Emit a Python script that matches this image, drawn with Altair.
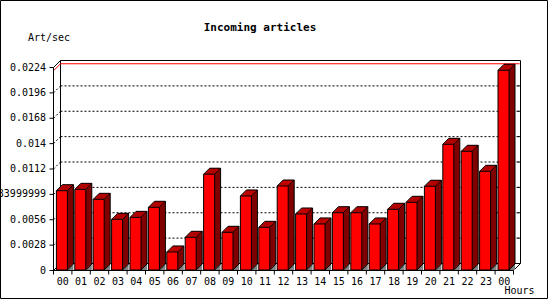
import altair as alt
import pandas as pd

# ---------------- data ----------------
hour_labels = ["00", "01", "02", "03", "04", "05", "06", "07", "08", "09", "10", "11",
               "12", "13", "14", "15", "16", "17", "18", "19", "20", "21", "22", "23", "00"]
rates = [0.00875, 0.00890, 0.00780, 0.00559, 0.00581, 0.00692, 0.00199, 0.00361,
         0.01057, 0.00416, 0.00817, 0.00471, 0.00927, 0.00618, 0.00508, 0.00632,
         0.00632, 0.00508, 0.00670, 0.00747, 0.00924, 0.01387, 0.01310, 0.01089, 0.02204]
y_tick_values = [0, 0.0028, 0.0056, 0.0084, 0.0112, 0.014, 0.0168, 0.0196, 0.0224]
y_tick_labels = ["0", "0.0028", "0.0056", "0.0083999999", "0.0112", "0.014",
                 "0.0168", "0.0196", "0.0224"]
chart_title = "Incoming articles"
y_title = "Art/sec"
x_title = "Hours"

# ---------------- style / geometry ----------------
FONT = "DejaVu Sans Mono"
W, H = 460, 203
WALL = 7          # depth of the 3-D frame (px)
DEPTH = 6         # depth of each bar (px)
F_L, F_R = 3.4, 14.4   # front face edges inside a slot (px)
RED, TOP, SIDE, FLOOR = "#ff0000", "#c00000", "#800000", "#808080"

n = len(rates)
ymax = y_tick_values[-1]
bars = pd.DataFrame({"slot": list(range(n)), "hour": hour_labels, "rate": rates})
ticks = pd.DataFrame({"tick": y_tick_values, "label": y_tick_labels})
bounds = pd.DataFrame({"b": list(range(n + 1))})
one = pd.DataFrame({"k": [0]})

xscale = alt.Scale(domain=[0, n], nice=False, zero=False)
yscale = alt.Scale(domain=[0, ymax], nice=False, zero=True)


def X():
    return alt.X("slot:Q", scale=xscale, axis=None)


def XD(v):
    return alt.XDatum(v, type="quantitative", scale=xscale, axis=None)


def YD(v):
    return alt.YDatum(v, type="quantitative", scale=yscale, axis=None)


def YR():
    return alt.Y("rate:Q", scale=yscale, axis=None)


def YT(field):
    return alt.Y(field, type="quantitative", scale=yscale, axis=None)


layers = []
b = alt.Chart(bars)

# outer border of the picture
layers.append(alt.Chart(one).mark_rect(fillOpacity=0, stroke="black", strokeWidth=1).encode(
    x=alt.value(-52.5), x2=alt.value(494.5), y=alt.value(-66.5), y2=alt.value(231.5)))

# back wall
layers.append(alt.Chart(one).mark_rect(
    fillOpacity=0, stroke="black", strokeWidth=1,
    xOffset=WALL + 0.5, x2Offset=WALL + 0.5, yOffset=-WALL + 0.5, y2Offset=-WALL + 0.5
).encode(x=XD(0), x2=alt.X2Datum(n), y=YD(ymax), y2=alt.Y2Datum(0)))

inner = alt.Chart(ticks).transform_filter(f"datum.tick > 0 && datum.tick < {ymax}")
# dotted grid on the back wall
layers.append(inner.mark_rule(
    color="black", strokeWidth=1, strokeDash=[2, 2],
    xOffset=WALL + 0.5, x2Offset=WALL + 0.5, yOffset=-WALL + 0.5
).encode(x=XD(0), x2=alt.X2Datum(n), y=YT("tick")))
# dotted connectors from front axis to back wall
layers.append(inner.mark_rule(
    color="black", strokeWidth=1, strokeDash=[2, 2],
    xOffset=0.5, x2Offset=WALL + 0.5, yOffset=0.5, y2Offset=-WALL + 0.5
).encode(x=XD(0), x2=alt.X2Datum(0), y=YT("tick"), y2=alt.Y2("tick")))
# little ticks on the right wall
layers.append(inner.mark_rule(
    color="black", strokeWidth=1,
    xOffset=WALL + 0.5 - 3, x2Offset=WALL + 0.5, yOffset=-WALL + 0.5, y2Offset=-WALL + 0.5
).encode(x=XD(n), x2=alt.X2Datum(n), y=YT("tick"), y2=alt.Y2("tick")))

# box edges (top-left and floor diagonals)
for xv, yv in [(0, ymax), (n, 0), (0, 0)]:
    layers.append(alt.Chart(one).mark_rule(
        color="black", strokeWidth=1, xOffset=0.5, x2Offset=WALL + 0.5, yOffset=0.5, y2Offset=-WALL + 0.5
    ).encode(x=XD(xv), x2=alt.X2Datum(xv), y=YD(yv), y2=alt.Y2Datum(yv)))

# red line at the maximum value
peak = alt.Chart(bars).transform_aggregate(peak="max(rate)")
layers.append(peak.mark_rule(
    color=RED, strokeWidth=1, xOffset=WALL + 0.5, x2Offset=WALL - 0.5, yOffset=-WALL + 0.5
).encode(x=XD(0), x2=alt.X2Datum(n), y=YT("peak")))
layers.append(peak.mark_rule(
    color=RED, strokeWidth=1, xOffset=0.5, x2Offset=WALL + 0.5, yOffset=0.5, y2Offset=-WALL + 0.5
).encode(x=XD(0), x2=alt.X2Datum(0), y=YT("peak"), y2=alt.Y2("peak")))

# ---------------- 3-D bars ----------------
# grey floor corner
layers.append(b.mark_rect(
    color=FLOOR, xOffset=F_R, x2Offset=F_R + DEPTH, yOffset=-DEPTH, y2Offset=0
).encode(x=X(), x2=alt.X2("slot"), y=YD(0), y2=alt.Y2Datum(0)))
# side face (stepped)
for k in range(DEPTH, 0, -1):
    layers.append(b.mark_rect(
        color=SIDE, xOffset=F_L + k, x2Offset=F_R + k, yOffset=-k, y2Offset=-k
    ).encode(x=X(), x2=alt.X2("slot"), y=YR(), y2=alt.Y2Datum(0)))
# top face (stepped rows)
for k in range(1, DEPTH + 1):
    layers.append(b.mark_rect(
        color=TOP, xOffset=F_L + k, x2Offset=F_R + k, yOffset=-k, y2Offset=-k + 1
    ).encode(x=X(), x2=alt.X2("slot"), y=YR(), y2=alt.Y2("rate")))
# front face
layers.append(b.mark_rect(
    color=RED, stroke="black", strokeWidth=1, xOffset=F_L, x2Offset=F_R
).encode(x=X(), x2=alt.X2("slot"), y=YR(), y2=alt.Y2Datum(0)))

# outlines of the top and side faces
edge = dict(color="black", strokeWidth=1)
layers.append(b.mark_rule(xOffset=F_L, x2Offset=F_L + DEPTH, y2Offset=-DEPTH, **edge).encode(
    x=X(), x2=alt.X2("slot"), y=YR(), y2=alt.Y2("rate")))
layers.append(b.mark_rule(xOffset=F_R, x2Offset=F_R + DEPTH, y2Offset=-DEPTH, **edge).encode(
    x=X(), x2=alt.X2("slot"), y=YR(), y2=alt.Y2("rate")))
layers.append(b.mark_rule(xOffset=F_L + DEPTH, x2Offset=F_R + DEPTH, yOffset=-DEPTH, y2Offset=-DEPTH, **edge).encode(
    x=X(), x2=alt.X2("slot"), y=YR(), y2=alt.Y2("rate")))
layers.append(b.mark_rule(xOffset=F_R + DEPTH, x2Offset=F_R + DEPTH, yOffset=-DEPTH, y2Offset=-DEPTH, **edge).encode(
    x=X(), x2=alt.X2("slot"), y=YR(), y2=alt.Y2Datum(0)))
layers.append(b.mark_rule(xOffset=F_R, x2Offset=F_R + DEPTH, y2Offset=-DEPTH, **edge).encode(
    x=X(), x2=alt.X2("slot"), y=YD(0), y2=alt.Y2Datum(0)))

# ---------------- axes drawn from the tick lists ----------------
# y axis line and ticks
layers.append(alt.Chart(one).mark_rule(
    color="black", strokeWidth=1, xOffset=0.5, yOffset=0.5, y2Offset=0.5
).encode(x=XD(0), y=YD(ymax), y2=alt.Y2Datum(0)))
layers.append(alt.Chart(ticks).mark_rule(
    color="black", strokeWidth=1, xOffset=-3.5, x2Offset=0.5, yOffset=0.5
).encode(x=XD(0), x2=alt.X2Datum(0), y=YT("tick")))
layers.append(alt.Chart(ticks).mark_text(
    font=FONT, fontSize=10, color="black", align="right", baseline="middle", dx=-7, dy=0.5
).encode(x=XD(0), y=YT("tick"), text=alt.Text("label:N")))
# x axis line, ticks at slot boundaries, hour labels
layers.append(alt.Chart(one).mark_rule(
    color="black", strokeWidth=1, xOffset=0.5, x2Offset=0.5, yOffset=0.5
).encode(x=XD(0), x2=alt.X2Datum(n), y=YD(0)))
layers.append(alt.Chart(bounds).mark_rule(
    color="black", strokeWidth=1, xOffset=0.5, yOffset=0.5, y2Offset=4.5
).encode(x=alt.X("b:Q", scale=xscale, axis=None), y=YD(0), y2=alt.Y2Datum(0)))
layers.append(b.mark_text(
    font=FONT, fontSize=10, color="black", align="center", baseline="top",
    dx=W / n / 2 + 0.5, dy=6.5
).encode(x=X(), y=YD(0), text=alt.Text("hour:N")))

# axis titles and chart title
layers.append(alt.Chart(one).mark_text(
    text=y_title, font=FONT, fontSize=10, color="black", align="left", baseline="alphabetic"
).encode(x=alt.value(-25), y=alt.value(-25.9)))
layers.append(alt.Chart(one).mark_text(
    text=x_title, font=FONT, fontSize=10, color="black", align="right", baseline="alphabetic"
).encode(x=alt.value(481.5), y=alt.value(227)))
layers.append(alt.Chart(one).mark_text(
    text=chart_title, font=FONT, fontSize=11, fontWeight="bold", color="black",
    align="center", baseline="alphabetic"
).encode(x=alt.value(207), y=alt.value(-36.3)))

chart = alt.layer(*layers).properties(
    width=W, height=H,
    padding={"left": 53, "top": 67, "right": 37, "bottom": 30},
    autosize=alt.AutoSizeParams(type="none"),
    background="white",
).configure_view(strokeWidth=0)

chart.save("out.html", embed_options={"renderer": "svg", "actions": False})
